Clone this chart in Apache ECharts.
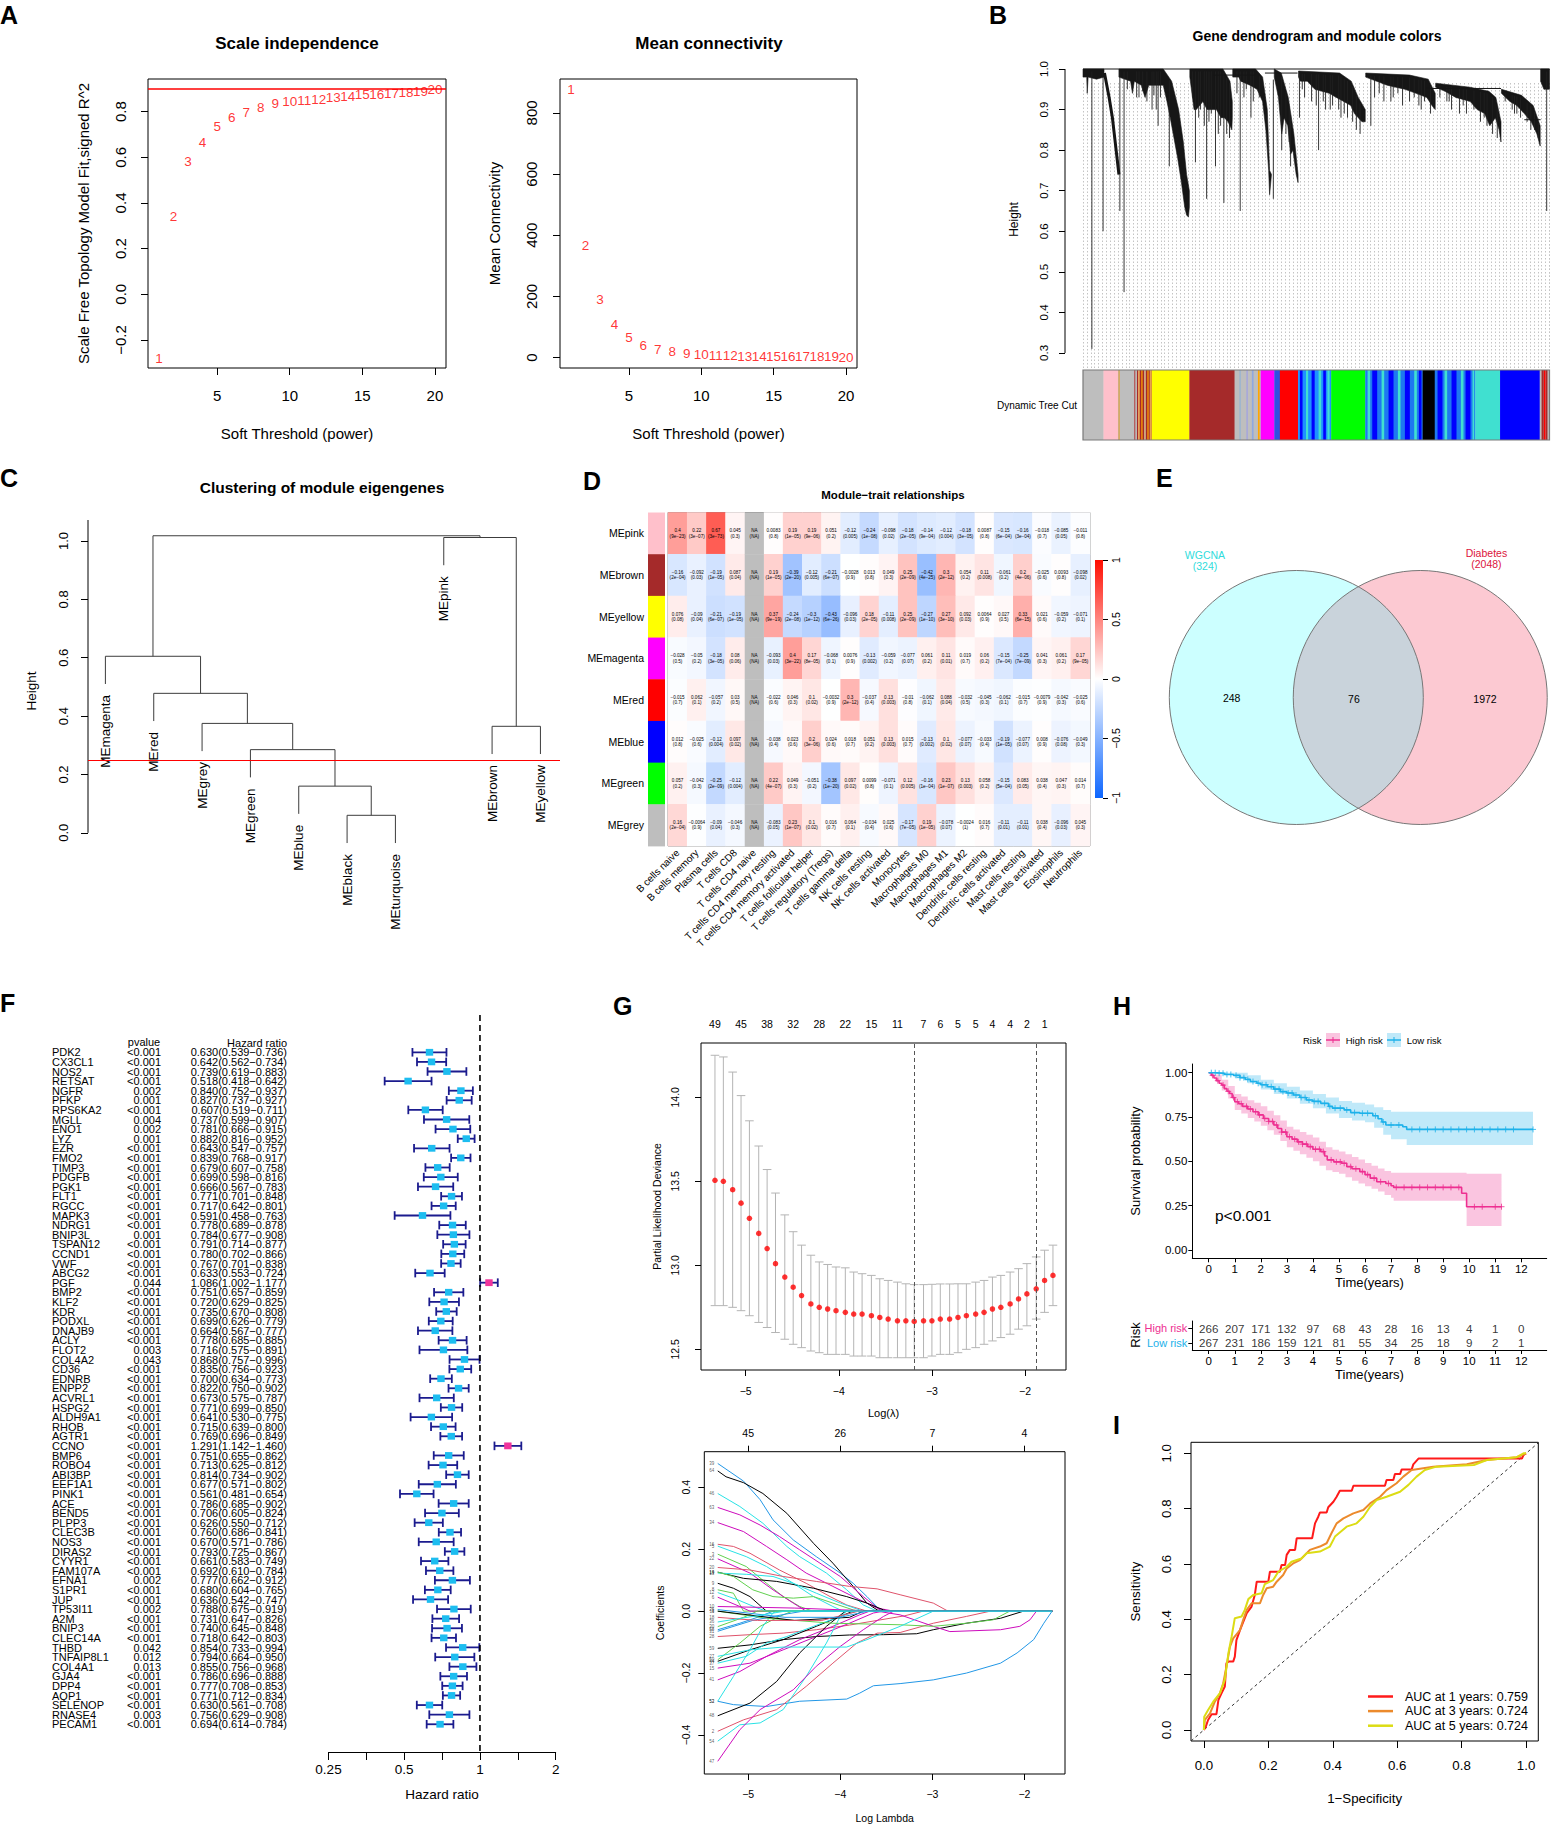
<!DOCTYPE html>
<html lang="en">
<head>
<meta charset="utf-8"/>
<title>WGCNA modules and prognostic signature</title>
<style>
  html, body { margin: 0; padding: 0; background: #fff; }
  #fig { width: 1556px; height: 1828px; }
</style>
</head>
<body>
<div id="fig"></div>
<script src="https://cdn.jsdelivr.net/npm/echarts@6.0.0/dist/echarts.min.js"></script>
<script>
// ---------------- A: soft threshold ----------------
const powers = [1, 2, 3, 4, 5, 6, 7, 8, 9, 10, 11, 12, 13, 14, 15, 16, 17, 18, 19, 20];
const scaleFitR2 = [-0.28, 0.34, 0.58, 0.665, 0.735, 0.775, 0.797, 0.82, 0.834, 0.844,
    0.848, 0.854, 0.863, 0.866, 0.873, 0.876, 0.88, 0.886, 0.89, 0.895];
const meanConnectivity = [876, 366, 189, 107, 65, 41, 27, 20, 14, 10, 8, 6, 5, 4, 3, 3, 2, 2, 2, 1];
const r2Cutoff = 0.9;

// ---------------- B: gene dendrogram (leaf order position 0..1, height) ----------------
const treeClusters = [
    {top: [[0, 1], [0.045, 1]], bottom: [[0, .98], [.008, .98], [.009, .94], [.011, .98], [.029, .975], [.045, .98]]},
    {top: [[.077, 1], [.172, 1], [.190, .97], [.205, .90], [.215, .82], [.222, .74], [.228, .70]],
        bottom: [[.077, .98], [.102, .97], [.106, .94], [.110, .97], [.125, .96], [.133, .93], [.141, .96], [.172, .96],
            [.180, .92], [.187, .88], [.195, .83], [.203, .78], [.211, .72], [.218, .66], [.222, .64], [.226, .635], [.228, .66]]},
    {top: [[.229, 1], [.30, 1], [.315, .97], [.320, .92]],
        bottom: [[.229, .98], [.238, .90], [.243, .90], [.257, .92], [.266, .90], [.280, .90], [.286, .90], [.296, .88],
            [.303, .88], [.311, .87], [.319, .85], [.320, .88]]},
    {top: [[.321, 1], [.37, 1], [.385, .98], [.395, .90], [.40, .75]],
        bottom: [[.321, .98], [.334, .98], [.338, .97], [.358, .96], [.373, .95], [.385, .92], [.392, .85], [.398, .75], [.400, .69], [.404, .74]]},
    {top: [[.410, 1], [.425, .99], [.44, .93], [.452, .84], [.461, .74]],
        bottom: [[.410, .98], [.419, .93], [.426, .84], [.431, .88], [.439, .86], [.445, .79], [.450, .80], [.457, .74], [.461, .72]]},
    {top: [[.462, .995], [.55, .99], [.575, .97], [.59, .93], [.605, .90]],
        bottom: [[.462, .98], [.466, .97], [.481, .97], [.497, .95], [.528, .94], [.543, .93], [.559, .92], [.574, .91],
            [.582, .89], [.590, .88], [.598, .87], [.605, .87]]},
    {top: [[.606, .99], [.70, .985], [.74, .975], [.755, .94]],
        bottom: [[.606, .98], [.652, .96], [.690, .95], [.714, .94], [.737, .93], [.748, .91], [.755, .90]]},
    {top: [[.756, .965], [.83, .955], [.87, .945], [.885, .93], [.896, .87]],
        bottom: [[.756, .955], [.776, .945], [.799, .93], [.830, .92], [.845, .90], [.861, .89], [.872, .86], [.884, .88], [.892, .85], [.896, .82]]},
    {top: [[.897, .95], [.94, .935], [.965, .91], [.98, .86]],
        bottom: [[.897, .94], [.915, .92], [.930, .91], [.946, .89], [.961, .87], [.973, .84], [.980, .81]]},
    {top: [[.981, 1], [1, 1]], bottom: [[.981, .97], [.988, .95], [1, .95]]}
];
const treeSpikes = [[.019, .31], [.043, .60], [.079, .65], [.088, .45], [.161, .86], [.185, .76], [.241, .77], [.265, .68],
    [.284, .76], [.302, .67], [.337, .65], [.408, .68], [.426, .80], [.445, .76], [.464, .88], [.505, .80], [.617, .86],
    [.807, .89], [.994, .65], [.12, .93], [.148, .90], [.36, .88], [.53, .90], [.56, .89], [.66, .92], [.72, .91],
    [.78, .92], [.86, .88], [.93, .89], [.96, .85],
    [.095, .95], [.115, .93], [.128, .945], [.137, .92], [.152, .935], [.157, .90], [.166, .93],
    [.235, .93], [.248, .88], [.252, .90], [.26, .86], [.27, .87], [.275, .89], [.29, .84], [.295, .86], [.308, .84], [.314, .83],
    [.33, .94], [.345, .93], [.35, .95], [.365, .92], [.378, .93], [.435, .84], [.442, .82],
    [.47, .95], [.475, .93], [.49, .92], [.50, .91], [.515, .92], [.52, .90], [.535, .91], [.548, .90], [.553, .88], [.567, .88],
    [.578, .87], [.586, .85], [.594, .84],
    [.625, .93], [.635, .94], [.645, .92], [.665, .93], [.675, .94], [.685, .91], [.70, .92], [.71, .93], [.725, .90], [.732, .92], [.745, .89],
    [.765, .93], [.785, .92], [.79, .90], [.815, .91], [.822, .89], [.838, .90], [.852, .87], [.866, .86], [.878, .84], [.888, .83],
    [.905, .92], [.92, .90], [.925, .89], [.938, .88], [.952, .87], [.968, .85], [.976, .83]];
const treeSweeps = [[[.046, .99], [.056, .93], [.063, .88], [.071, .80], [.077, .74]]];
const treeLinks = [[[0, 1], [1, 1]], [[.28, .985], [.37, .985]], [[.39, .99], [.46, .99]], [[.737, .952], [.896, .952]], [[.946, .875], [.981, .875]]];
const moduleBar = [[0, .044, '#bebebe'], [.044, .075, '#ffc0cb'], [.075, .110, '#bebebe'], [.110, .147, '#a52a2a'],
    [.147, .228, '#ffff00'], [.228, .325, '#a52a2a'], [.325, .381, '#bebebe'], [.381, .410, '#ff00ff'],
    [.410, .422, '#3050e0'], [.422, .461, '#ff0000'], [.461, .532, '#1e90ff'], [.532, .605, '#00ff00'],
    [.605, .728, '#1e78f0'], [.728, .754, '#000000'], [.754, .841, '#1e78f0'], [.841, .894, '#40e0d0'],
    [.894, .979, '#0000ff'], [.979, 1, '#bebebe']];
const moduleStripes = [[.076, .078, '#e0a040'], [.112, .115, '#bebebe'], [.118, .121, '#e8a860'], [.125, .127, '#ffa500'],
    [.131, .134, '#d2b48c'], [.138, .140, '#ffa500'], [.143, .146, '#e8a050'],
    [.335, .338, '#9fb6cd'], [.350, .353, '#a9a9d9'], [.362, .365, '#8fa8e0'], [.375, .378, '#ffa500'],
    [.465, .470, '#0000ff'], [.478, .482, '#40e0d0'], [.490, .496, '#0000ff'], [.505, .510, '#40e0d0'], [.515, .520, '#0000ff'], [.524, .528, '#40e0d0'],
    [.610, .615, '#40e0d0'], [.620, .630, '#0000ff'], [.640, .645, '#40e0d0'], [.655, .665, '#0000ff'], [.675, .680, '#40e0d0'],
    [.690, .700, '#0000ff'], [.710, .715, '#40e0d0'], [.720, .725, '#0000ff'],
    [.760, .770, '#0000ff'], [.775, .780, '#40e0d0'], [.790, .800, '#0000ff'], [.810, .815, '#40e0d0'], [.820, .830, '#0000ff'], [.835, .838, '#40e0d0'],
    [.983, .987, '#a52a2a'], [.988, .991, '#ff0000'], [.992, .995, '#a52a2a']];

// ---------------- C: module eigengene clustering ----------------
const eigenLeaves = ['MEmagenta', 'MEred', 'MEgrey', 'MEgreen', 'MEblue', 'MEblack', 'MEturquoise', 'MEpink', 'MEbrown', 'MEyellow'];
const eigenMerges = [['MEblack', 'MEturquoise', 0.06], ['MEblue', 'm0', 0.16], ['MEgreen', 'm1', 0.285], ['MEgrey', 'm2', 0.375],
    ['MEred', 'm3', 0.478], ['MEmagenta', 'm4', 0.605], ['MEbrown', 'MEyellow', 0.365], ['MEpink', 'm6', 1.012], ['m5', 'm7', 1.018]];
const eigenHang = 0.095;
const eigenCut = 0.25;

// ---------------- D: module-trait relationships ----------------
const traits = ['B cells naive', 'B cells memory', 'Plasma cells', 'T cells CD8', 'T cells CD4 naive', 'T cells CD4 memory resting',
    'T cells CD4 memory activated', 'T cells follicular helper', 'T cells regulatory (Tregs)', 'T cells gamma delta',
    'NK cells resting', 'NK cells activated', 'Monocytes', 'Macrophages M0', 'Macrophages M1', 'Macrophages M2',
    'Dendritic cells resting', 'Dendritic cells activated', 'Mast cells resting', 'Mast cells activated', 'Eosinophils', 'Neutrophils'];
const modules = ['MEpink', 'MEbrown', 'MEyellow', 'MEmagenta', 'MEred', 'MEblue', 'MEgreen', 'MEgrey'];
const moduleColors = ['#ffc0cb', '#a52a2a', '#ffff00', '#ff00ff', '#ff0000', '#0000ff', '#00ff00', '#bebebe'];
const corPink = [0.4, 0.22, 0.67, 0.045, null, 0.0083, 0.19, 0.19, 0.051, -0.12, -0.24, -0.098, -0.18, -0.14, -0.12, -0.18, 0.0087, -0.15, -0.16, -0.018, -0.085, -0.011];
const pPink = ['9e-23', '3e-07', '3e-73', '0.3', 'NA', '0.8', '1e-05', '9e-06', '0.2', '0.005', '1e-08', '0.02', '2e-05', '9e-04', '0.004', '3e-05', '0.8', '6e-04', '3e-04', '0.7', '0.05', '0.8'];
const corBrown = [-0.16, -0.092, -0.19, 0.087, null, 0.19, -0.39, -0.12, -0.21, -0.0028, 0.013, 0.049, 0.25, -0.42, 0.3, 0.054, 0.11, -0.061, 0.2, -0.025, 0.0093, -0.098];
const pBrown = ['2e-04', '0.03', '1e-05', '0.04', 'NA', '1e-05', '2e-20', '0.005', '6e-07', '0.9', '0.8', '0.3', '2e-09', '4e-25', '2e-12', '0.2', '0.008', '0.2', '4e-06', '0.6', '0.8', '0.02'];
const corYellow = [0.076, -0.09, -0.21, -0.19, null, 0.37, -0.24, -0.3, -0.43, -0.096, 0.18, -0.11, 0.25, -0.27, 0.27, 0.092, 0.0064, 0.027, 0.33, 0.021, -0.059, -0.071];
const pYellow = ['0.08', '0.04', '6e-07', '1e-05', 'NA', '9e-19', '2e-08', '1e-12', '6e-26', '0.03', '2e-05', '0.008', '2e-09', '1e-10', '3e-10', '0.03', '0.9', '0.5', '6e-15', '0.6', '0.2', '0.1'];
const corMagenta = [-0.028, -0.05, -0.18, 0.08, null, -0.093, 0.4, 0.17, -0.068, 0.0076, -0.13, -0.059, -0.077, 0.061, 0.11, 0.019, 0.06, -0.15, -0.25, 0.041, 0.061, 0.17];
const pMagenta = ['0.5', '0.2', '3e-05', '0.06', 'NA', '0.03', '3e-22', '8e-05', '0.1', '0.9', '0.002', '0.2', '0.07', '0.2', '0.01', '0.7', '0.2', '7e-04', '7e-09', '0.3', '0.2', '9e-05'];
const corRed = [-0.015, 0.062, -0.057, 0.03, null, -0.022, 0.046, 0.1, -0.0032, 0.3, -0.037, 0.13, -0.01, -0.062, 0.088, -0.032, -0.045, -0.062, -0.015, -0.0079, -0.042, -0.025];
const pRed = ['0.7', '0.1', '0.2', '0.5', 'NA', '0.6', '0.3', '0.02', '0.9', '2e-12', '0.4', '0.003', '0.8', '0.1', '0.04', '0.5', '0.3', '0.1', '0.7', '0.9', '0.3', '0.6'];
const corBlue = [0.012, -0.025, -0.12, 0.097, null, -0.038, 0.023, 0.2, 0.024, 0.018, 0.051, 0.13, 0.015, -0.13, 0.1, -0.077, -0.033, -0.19, -0.077, 0.008, -0.076, -0.049];
const pBlue = ['0.8', '0.6', '0.004', '0.02', 'NA', '0.4', '0.6', '3e-06', '0.6', '0.7', '0.2', '0.003', '0.7', '0.002', '0.02', '0.07', '0.4', '1e-05', '0.07', '0.9', '0.08', '0.3'];
const corGreen = [0.057, -0.042, -0.25, -0.12, null, 0.22, 0.049, -0.051, -0.38, 0.097, 0.0099, -0.071, 0.12, -0.16, 0.23, 0.13, 0.058, -0.15, 0.083, 0.038, 0.047, 0.014];
const pGreen = ['0.2', '0.3', '2e-09', '0.004', 'NA', '4e-07', '0.3', '0.2', '1e-20', '0.02', '0.8', '0.1', '0.005', '1e-04', '1e-07', '0.003', '0.2', '5e-04', '0.05', '0.4', '0.3', '0.7'];
const corGrey = [0.16, -0.0064, -0.09, -0.046, null, -0.083, 0.23, 0.1, 0.016, 0.064, -0.034, 0.025, -0.17, 0.19, -0.078, -0.0024, 0.016, -0.11, -0.11, 0.038, -0.096, 0.045];
const pGrey = ['2e-04', '0.9', '0.04', '0.3', 'NA', '0.05', '1e-07', '0.02', '0.7', '0.1', '0.4', '0.6', '7e-05', '1e-05', '0.07', '1', '0.7', '0.01', '0.01', '0.4', '0.03', '0.3'];

// ---------------- E: Venn ----------------
const vennSets = ['WGCNA', 'Diabetes'];
const vennTotals = [324, 2048];
const vennOnly = [248, 1972];
const vennShared = 76;

// ---------------- F: univariate Cox ----------------
const genes = ['PDK2', 'CX3CL1', 'NOS2', 'RETSAT', 'NGFR', 'PFKP', 'RPS6KA2', 'MGLL', 'ENO1', 'LYZ', 'EZR', 'FMO2', 'TIMP3', 'PDGFB',
    'PGK1', 'FLT1', 'RGCC', 'MAPK3', 'NDRG1', 'BNIP3L', 'TSPAN12', 'CCND1', 'VWF', 'ABCG2', 'PGF', 'BMP2', 'KLF2', 'KDR', 'PODXL',
    'DNAJB9', 'ACLY', 'FLOT2', 'COL4A2', 'CD36', 'EDNRB', 'ENPP2', 'ACVRL1', 'HSPG2', 'ALDH9A1', 'RHOB', 'AGTR1', 'CCNO', 'BMP6',
    'ROBO4', 'ABI3BP', 'EEF1A1', 'PINK1', 'ACE', 'BEND5', 'PLPP3', 'CLEC3B', 'NOS3', 'DIRAS2', 'CYYR1', 'FAM107A', 'EFNA1', 'S1PR1',
    'JUP', 'TP53I11', 'A2M', 'BNIP3', 'CLEC14A', 'THBD', 'TNFAIP8L1', 'COL4A1', 'GJA4', 'DPP4', 'AQP1', 'SELENOP', 'RNASE4', 'PECAM1'];
const pvals = ['<0.001', '<0.001', '<0.001', '<0.001', '0.002', '0.001', '<0.001', '0.004', '0.002', '0.001', '<0.001', '<0.001',
    '<0.001', '<0.001', '<0.001', '<0.001', '<0.001', '<0.001', '<0.001', '0.001', '<0.001', '<0.001', '<0.001', '<0.001', '0.044',
    '<0.001', '<0.001', '<0.001', '<0.001', '<0.001', '<0.001', '0.003', '0.043', '<0.001', '<0.001', '<0.001', '<0.001', '<0.001',
    '<0.001', '<0.001', '<0.001', '<0.001', '<0.001', '<0.001', '<0.001', '<0.001', '<0.001', '<0.001', '<0.001', '<0.001', '<0.001',
    '<0.001', '<0.001', '<0.001', '<0.001', '0.002', '<0.001', '<0.001', '0.002', '<0.001', '<0.001', '<0.001', '0.042', '0.012',
    '0.013', '<0.001', '<0.001', '<0.001', '<0.001', '0.003', '<0.001'];
const hr = [0.630, 0.642, 0.739, 0.518, 0.840, 0.827, 0.607, 0.737, 0.781, 0.882, 0.643, 0.839, 0.679, 0.699, 0.666, 0.771, 0.717,
    0.591, 0.778, 0.784, 0.791, 0.780, 0.767, 0.633, 1.086, 0.751, 0.720, 0.735, 0.699, 0.664, 0.778, 0.716, 0.868, 0.835, 0.700,
    0.822, 0.673, 0.771, 0.641, 0.715, 0.769, 1.291, 0.751, 0.713, 0.814, 0.677, 0.561, 0.786, 0.706, 0.626, 0.760, 0.670, 0.793,
    0.661, 0.692, 0.777, 0.680, 0.636, 0.788, 0.731, 0.740, 0.718, 0.854, 0.794, 0.855, 0.786, 0.777, 0.771, 0.630, 0.756, 0.694];
const hrLow = [0.539, 0.562, 0.619, 0.418, 0.752, 0.737, 0.519, 0.599, 0.666, 0.816, 0.547, 0.768, 0.607, 0.598, 0.567, 0.701, 0.642,
    0.458, 0.689, 0.677, 0.714, 0.702, 0.701, 0.553, 1.002, 0.657, 0.629, 0.670, 0.626, 0.567, 0.685, 0.575, 0.757, 0.756, 0.634,
    0.750, 0.575, 0.699, 0.530, 0.639, 0.696, 1.142, 0.655, 0.625, 0.734, 0.571, 0.481, 0.685, 0.605, 0.550, 0.686, 0.571, 0.725,
    0.583, 0.610, 0.662, 0.604, 0.542, 0.675, 0.647, 0.645, 0.642, 0.733, 0.664, 0.756, 0.696, 0.708, 0.712, 0.561, 0.629, 0.614];
const hrHigh = [0.736, 0.734, 0.883, 0.642, 0.937, 0.927, 0.711, 0.907, 0.915, 0.952, 0.757, 0.917, 0.758, 0.816, 0.783, 0.848, 0.801,
    0.763, 0.878, 0.908, 0.877, 0.866, 0.838, 0.724, 1.177, 0.859, 0.825, 0.808, 0.779, 0.777, 0.885, 0.891, 0.996, 0.923, 0.773,
    0.902, 0.787, 0.850, 0.775, 0.800, 0.849, 1.460, 0.862, 0.812, 0.902, 0.802, 0.654, 0.902, 0.824, 0.712, 0.841, 0.786, 0.867,
    0.749, 0.784, 0.912, 0.765, 0.747, 0.919, 0.826, 0.848, 0.803, 0.994, 0.950, 0.968, 0.888, 0.853, 0.834, 0.708, 0.908, 0.784];

// ---------------- G: LASSO ----------------
const cvLogLambda = [-5.33, -5.24, -5.14, -5.05, -4.96, -4.86, -4.77, -4.68, -4.58, -4.49, -4.40, -4.30, -4.21, -4.12, -4.03, -3.93,
    -3.84, -3.75, -3.65, -3.56, -3.47, -3.37, -3.28, -3.19, -3.09, -3.00, -2.91, -2.81, -2.72, -2.63, -2.53, -2.44, -2.35, -2.26,
    -2.16, -2.07, -1.98, -1.88, -1.79, -1.70];
const cvMean = [13.506, 13.50, 13.45, 13.37, 13.28, 13.19, 13.10, 13.01, 12.93, 12.87, 12.82, 12.77, 12.75, 12.74, 12.73, 12.72,
    12.71, 12.71, 12.70, 12.69, 12.68, 12.67, 12.67, 12.666, 12.67, 12.67, 12.68, 12.68, 12.69, 12.70, 12.71, 12.72, 12.74, 12.75,
    12.77, 12.80, 12.83, 12.86, 12.91, 12.94];
const cvUpper = [14.25, 14.24, 14.15, 14.01, 13.86, 13.71, 13.57, 13.43, 13.30, 13.20, 13.12, 13.06, 13.02, 13.005, 12.99, 12.985,
    12.96, 12.95, 12.94, 12.92, 12.91, 12.90, 12.89, 12.885, 12.885, 12.887, 12.889, 12.889, 12.89, 12.89, 12.90, 12.91, 12.93,
    12.94, 12.96, 12.98, 13.01, 13.05, 13.09, 13.12];
const cvLower = [12.76, 12.76, 12.75, 12.73, 12.70, 12.66, 12.63, 12.60, 12.56, 12.53, 12.51, 12.49, 12.48, 12.47, 12.47, 12.47,
    12.46, 12.46, 12.46, 12.45, 12.45, 12.45, 12.45, 12.45, 12.45, 12.46, 12.47, 12.47, 12.48, 12.50, 12.51, 12.53, 12.55, 12.57,
    12.59, 12.62, 12.64, 12.68, 12.72, 12.76];
const cvTopIndex = [0, 3, 6, 9, 12, 15, 18, 21, 24, 26, 28, 30, 32, 34, 36, 38];
const cvTopCount = [49, 45, 38, 32, 28, 22, 15, 11, 7, 6, 5, 5, 4, 4, 2, 1];
const lambdaMinLog = -3.19;
const lambda1seLog = -1.88;
const coefTopAt = [-5, -4, -3, -2];
const coefTopCount = [45, 26, 7, 4];
const coefIds = [39, 64, 46, 63, 34, 16, 5, 3, 22, 20, 19, 13, 14, 9, 8, 6, 12, 58, 28, 59, 60, 44, 37, 15, 41, 52, 53, 48, 2, 54,
    47, 10, 11, 27, 30, 31, 4, 18, 26, 36];
const coefColorKey = ['B', 'K', 'C', 'M', 'M', 'R', 'C', 'G', 'M', 'R', 'K', 'C', 'G', 'K', 'G', 'M', 'C', 'B', 'R', 'K', 'G', 'K', 'C',
    'M', 'M', 'C', 'B', 'K', 'R', 'C', 'M', 'M', 'G', 'C', 'G', 'B', 'K', 'R', 'B', 'C'];
const coefPaths = [
    [[-5.33, 0.477], [-5.05, 0.42], [-4.87, 0.36], [-4.73, 0.295], [-4.51, 0.23], [-4.26, 0.176], [-4.0, 0.123], [-3.86, 0.09], [-3.71, 0.047], [-3.57, 0.004], [-3.5, 0]],
    [[-5.33, 0.453], [-5.24, 0.434], [-5.05, 0.415], [-4.84, 0.38], [-4.58, 0.316], [-4.29, 0.219], [-4.08, 0.155], [-3.86, 0.08], [-3.71, 0.026], [-3.6, 0.004], [-3.55, 0]],
    [[-5.33, 0.38], [-5.09, 0.338], [-4.84, 0.284], [-4.58, 0.209], [-4.44, 0.176], [-4.15, 0.123], [-3.93, 0.069], [-3.75, 0.02], [-3.6, 0]],
    [[-5.33, 0.335], [-5.09, 0.311], [-4.87, 0.278], [-4.66, 0.241], [-4.44, 0.198], [-4.22, 0.155], [-4.0, 0.112], [-3.75, 0.047], [-3.57, 0.004], [-3.5, 0]],
    [[-5.33, 0.286], [-5.05, 0.257], [-4.8, 0.209], [-4.58, 0.166], [-4.37, 0.123], [-4.08, 0.08], [-3.86, 0.047], [-3.6, 0.01], [-3.42, 0]],
    [[-5.33, 0.216], [-5.16, 0.209], [-4.98, 0.187], [-4.66, 0.133], [-4.37, 0.09], [-4.11, 0.047], [-3.93, 0.02], [-3.71, 0]],
    [[-5.33, 0.21], [-5.02, 0.176], [-4.8, 0.144], [-4.51, 0.09], [-4.29, 0.047], [-4.08, 0.015], [-3.97, 0]],
    [[-5.33, 0.184], [-5.02, 0.144], [-4.8, 0.09], [-4.62, 0.047], [-4.44, 0.015], [-4.3, 0]],
    [[-5.33, 0.169], [-4.98, 0.123], [-4.73, 0.069], [-4.51, 0.026], [-4.37, 0]],
    [[-5.33, 0.141], [-4.98, 0.133], [-4.62, 0.112], [-4.26, 0.096], [-3.9, 0.08], [-3.6, 0.072], [-3.35, 0.053], [-2.99, 0.026], [-2.83, 0]],
    [[-5.33, 0.126], [-5.05, 0.106], [-4.69, 0.096], [-4.29, 0.074], [-3.93, 0.047], [-3.71, 0.026], [-3.53, 0.004], [-3.48, 0]],
    [[-5.33, 0.123], [-5.02, 0.119], [-4.73, 0.112], [-4.51, 0.09], [-4.26, 0.058], [-4.0, 0.026], [-3.79, 0.004], [-3.75, 0]],
    [[-5.33, 0.126], [-5.16, 0.112], [-4.95, 0.069], [-4.73, 0.047], [-4.51, 0.042], [-4.29, 0.047], [-4.08, 0.026], [-3.86, 0.004], [-3.8, 0]],
    [[-5.33, 0.09], [-5.16, 0.074], [-4.98, 0.047], [-4.84, 0.01], [-4.8, 0]],
    [[-5.33, 0.069], [-5.16, 0.058], [-5.05, 0]],
    [[-5.33, 0.045], [-5.09, 0.015], [-4.98, 0]],
    [[-5.33, 0.06], [-5.1, 0.035], [-4.9, 0.01], [-4.8, 0]],
    [[-5.33, -0.06], [-5.09, -0.039], [-4.87, -0.017], [-4.73, 0]],
    [[-5.33, -0.082], [-4.98, -0.076], [-4.62, -0.071], [-4.26, -0.06], [-3.9, -0.045], [-3.6, -0.03], [-3.3, -0.015], [-3.1, 0]],
    [[-5.33, -0.12], [-4.98, -0.109], [-4.62, -0.092], [-4.26, -0.082], [-3.9, -0.077], [-3.53, -0.076], [-3.17, -0.073], [-2.99, -0.06], [-2.63, -0.039], [-2.26, -0.023], [-2.01, 0]],
    [[-5.33, -0.157], [-5.09, -0.103], [-4.87, -0.049], [-4.66, -0.017], [-4.52, 0]],
    [[-5.33, -0.162], [-4.98, -0.125], [-4.62, -0.092], [-4.26, -0.049], [-4.0, -0.017], [-3.86, 0]],
    [[-5.33, -0.168], [-5.02, -0.146], [-4.8, -0.103], [-4.58, -0.082], [-4.29, -0.049], [-4.0, -0.017], [-3.82, 0]],
    [[-5.33, -0.184], [-4.98, -0.168], [-4.62, -0.125], [-4.26, -0.082], [-3.9, -0.039], [-3.64, -0.006], [-3.53, 0]],
    [[-5.33, -0.222], [-5.09, -0.195], [-4.8, -0.146], [-4.44, -0.092], [-4.08, -0.049], [-3.79, -0.012], [-3.68, 0]],
    [[-5.33, -0.291], [-5.16, -0.211], [-4.98, -0.125], [-4.84, -0.049], [-4.73, -0.006], [-4.69, 0]],
    [[-5.33, -0.291], [-5.16, -0.302], [-4.8, -0.308], [-4.44, -0.291], [-3.93, -0.284], [-3.79, -0.265], [-3.64, -0.241], [-3.35, -0.234], [-2.99, -0.222], [-2.63, -0.2], [-2.26, -0.168], [-2.08, -0.135], [-1.9, -0.092], [-1.79, -0.039], [-1.70, 0]],
    [[-5.33, -0.338], [-4.98, -0.297], [-4.69, -0.227], [-4.44, -0.135], [-4.15, -0.049], [-3.97, -0.006], [-3.93, 0]],
    [[-5.33, -0.388], [-5.05, -0.351], [-4.69, -0.318], [-4.37, -0.243], [-4.08, -0.168], [-3.82, -0.103], [-3.6, -0.071], [-3.35, -0.069], [-2.99, -0.039], [-2.63, -0.017], [-2.37, 0]],
    [[-5.33, -0.42], [-5.09, -0.367], [-4.87, -0.361], [-4.62, -0.318], [-4.37, -0.211], [-4.15, -0.103], [-4.0, -0.017], [-3.93, 0]],
    [[-5.33, -0.485], [-5.09, -0.383], [-4.87, -0.318], [-4.51, -0.254], [-4.26, -0.178], [-4.0, -0.114], [-3.75, -0.06], [-3.53, -0.017], [-3.42, 0]],
    [[-5.33, 0.015], [-4.5, 0.01], [-3.6, 0], [-3.35, -0.012], [-2.99, -0.049], [-2.81, -0.066], [-2.26, -0.06], [-2.05, -0.049], [-1.94, -0.028], [-1.87, 0]],
    [[-5.33, 0], [-4.8, -0.023], [-4.08, -0.039], [-3.35, -0.044], [-2.99, -0.049], [-2.63, -0.039], [-2.34, -0.028], [-2.16, 0]],
    [[-5.33, -0.146], [-4.98, -0.125], [-4.62, -0.116], [-3.93, -0.116], [-3.71, -0.092], [-3.35, -0.049], [-2.99, 0]],
    [[-5.33, -0.05], [-5.05, -0.02], [-4.9, 0]],
    [[-5.33, -0.065], [-4.95, -0.03], [-4.6, -0.01], [-4.4, 0]],
    [[-5.33, 0.0], [-4.5, -0.03], [-3.9, -0.02], [-3.75, 0]],
    [[-5.33, -0.02], [-4.9, -0.03], [-4.2, -0.03], [-3.8, 0]],
    [[-5.33, 0.005], [-4.6, -0.02], [-4.0, -0.02], [-3.7, 0]],
    [[-5.33, -0.035], [-4.8, -0.01], [-4.6, 0]]
];
const glmnetPalette = {K: '#000000', R: '#DF536B', G: '#61D04F', B: '#2297E6', C: '#28E2E5', M: '#CD0BBC'};

// ---------------- H: Kaplan-Meier ----------------
const kmGroups = ['High risk', 'Low risk'];
const kmColors = ['#ee2f91', '#1cb1ea'];
const kmBandColors = ['rgba(238,47,145,0.28)', 'rgba(28,177,234,0.28)'];
const highT = [0, 0.1, 0.2, 0.3, 0.4, 0.5, 0.6, 0.7, 0.8, 0.9, 1.0, 1.15, 1.3, 1.5, 1.7, 1.9, 2.1, 2.3, 2.5, 2.65, 2.8, 3.0,
    3.2, 3.4, 3.6, 3.8, 4.0, 4.3, 4.45, 4.55, 4.8, 5.1, 5.3, 5.5, 5.8, 6.0, 6.2, 6.45, 6.8, 7.0, 7.1, 9.71, 9.9, 11.24];
const highS = [1, 0.985, 0.97, 0.955, 0.94, 0.93, 0.91, 0.895, 0.883, 0.86, 0.836, 0.825, 0.81, 0.795, 0.78, 0.762, 0.742, 0.725,
    0.705, 0.685, 0.665, 0.639, 0.625, 0.61, 0.597, 0.583, 0.568, 0.555, 0.53, 0.508, 0.497, 0.489, 0.47, 0.458, 0.442, 0.425,
    0.405, 0.385, 0.375, 0.362, 0.353, 0.32, 0.244, 0.244];
const lowT = [0, 0.3, 0.6, 0.95, 1.2, 1.4, 1.6, 1.85, 2.0, 2.25, 2.5, 2.75, 3.0, 3.25, 3.5, 3.75, 4.0, 4.3, 4.6, 4.75, 5.2, 5.45,
    5.8, 6.3, 6.5, 6.65, 6.8, 7.45, 7.6, 12.45];
const lowS = [1, 0.997, 0.99, 0.985, 0.972, 0.962, 0.95, 0.94, 0.932, 0.921, 0.907, 0.893, 0.885, 0.874, 0.86, 0.846, 0.838, 0.827,
    0.81, 0.8, 0.79, 0.775, 0.771, 0.757, 0.74, 0.722, 0.705, 0.695, 0.68, 0.68];
const highBand = [[0, 1, 1], [0.25, 0.95, 0.99], [0.5, 0.90, 0.96], [0.75, 0.855, 0.925], [1.0, 0.79, 0.88], [1.25, 0.77, 0.865],
    [1.5, 0.745, 0.845], [1.75, 0.725, 0.83], [2.0, 0.70, 0.81], [2.25, 0.675, 0.785], [2.5, 0.65, 0.76], [2.75, 0.615, 0.73],
    [3.0, 0.58, 0.695], [3.25, 0.56, 0.68], [3.5, 0.54, 0.665], [3.75, 0.52, 0.65], [4.0, 0.50, 0.635], [4.25, 0.475, 0.61],
    [4.5, 0.45, 0.58], [4.75, 0.44, 0.565], [5.0, 0.43, 0.555], [5.25, 0.41, 0.54], [5.5, 0.39, 0.525], [5.75, 0.375, 0.51],
    [6.0, 0.36, 0.49], [6.25, 0.345, 0.475], [6.5, 0.33, 0.46], [6.75, 0.31, 0.445], [7.0, 0.295, 0.436], [7.1, 0.278, 0.436],
    [9.9, 0.135, 0.43]];
const lowBand = [[0, 1, 1], [0.5, 0.99, 1.0], [1.0, 0.97, 1.0], [1.5, 0.94, 0.985], [2.0, 0.905, 0.96], [2.5, 0.88, 0.94],
    [3.0, 0.855, 0.92], [3.5, 0.825, 0.90], [4.0, 0.80, 0.88], [4.5, 0.77, 0.86], [5.0, 0.745, 0.84], [5.5, 0.73, 0.83],
    [6.0, 0.72, 0.82], [6.35, 0.69, 0.805], [6.7, 0.65, 0.79], [7.0, 0.625, 0.78], [7.6, 0.592, 0.78]];
const highEnd = 11.24, lowEnd = 12.45;
const highCensor = [0.15, 0.35, 0.55, 0.75, 0.95, 1.1, 1.25, 1.45, 1.6, 1.8, 1.95, 2.15, 2.3, 2.45, 2.6, 2.8, 2.95, 3.1, 3.3,
    3.45, 3.6, 3.75, 3.9, 4.1, 4.25, 4.4, 4.7, 4.9, 5.05, 5.2, 5.45, 5.65, 5.9, 6.1, 6.35, 6.6, 6.9, 7.2, 7.5, 7.8, 8.1, 8.4, 8.7,
    9.0, 9.3, 9.6, 10.2, 10.5, 11.0, 11.24];
const lowCensor = [0.1, 0.25, 0.4, 0.55, 0.7, 0.85, 1.05, 1.2, 1.35, 1.5, 1.7, 1.9, 2.05, 2.2, 2.4, 2.55, 2.7, 2.85, 3.05, 3.2,
    3.35, 3.55, 3.7, 3.85, 4.05, 4.2, 4.45, 4.65, 4.85, 5.05, 5.3, 5.6, 5.9, 6.1, 6.4, 6.7, 7.0, 7.3, 7.8, 8.1, 8.4, 8.7, 9.0, 9.3,
    9.6, 9.9, 10.2, 10.5, 10.8, 11.1, 11.4, 11.7, 12.45];
const years = [0, 1, 2, 3, 4, 5, 6, 7, 8, 9, 10, 11, 12];
const riskHigh = [266, 207, 171, 132, 97, 68, 43, 28, 16, 13, 4, 1, 0];
const riskLow = [267, 231, 186, 159, 121, 81, 55, 34, 25, 18, 9, 2, 1];
const kmPvalue = 'p<0.001';

// ---------------- I: time-dependent ROC ----------------
const rocNames = ['AUC at 1 years: 0.759', 'AUC at 3 years: 0.724', 'AUC at 5 years: 0.724'];
const rocColors = ['#ff1a1a', '#ec8a2c', '#dcdc14'];
const roc1 = [[0, 0], [0.006, 0.012], [0.013, 0.036], [0.024, 0.057], [0.039, 0.057], [0.045, 0.108], [0.055, 0.133], [0.065, 0.157],
    [0.07, 0.241], [0.076, 0.247], [0.091, 0.247], [0.096, 0.265], [0.101, 0.325], [0.112, 0.361], [0.133, 0.422], [0.148, 0.446],
    [0.158, 0.488], [0.164, 0.536], [0.2, 0.536], [0.205, 0.572], [0.236, 0.572], [0.241, 0.596], [0.252, 0.596], [0.257, 0.633],
    [0.267, 0.651], [0.283, 0.651], [0.288, 0.693], [0.336, 0.693], [0.345, 0.747], [0.355, 0.771], [0.36, 0.786], [0.381, 0.786],
    [0.386, 0.805], [0.402, 0.825], [0.412, 0.843], [0.422, 0.865], [0.459, 0.865], [0.464, 0.883], [0.562, 0.883], [0.567, 0.904],
    [0.588, 0.904], [0.593, 0.925], [0.609, 0.925], [0.614, 0.942], [0.645, 0.942], [0.65, 0.96], [0.666, 0.981], [0.961, 0.981],
    [0.987, 0.981], [0.992, 0.994], [1, 1]];
const roc3 = [[0, 0], [0.003, 0.036], [0.019, 0.06], [0.034, 0.102], [0.05, 0.133], [0.06, 0.169], [0.07, 0.229], [0.081, 0.301],
    [0.091, 0.331], [0.112, 0.361], [0.122, 0.398], [0.133, 0.434], [0.148, 0.458], [0.174, 0.458], [0.184, 0.488], [0.195, 0.512],
    [0.215, 0.518], [0.226, 0.536], [0.246, 0.56], [0.257, 0.584], [0.277, 0.602], [0.298, 0.614], [0.314, 0.633], [0.329, 0.651],
    [0.36, 0.663], [0.381, 0.675], [0.396, 0.711], [0.412, 0.747], [0.433, 0.765], [0.464, 0.783], [0.495, 0.795], [0.516, 0.819],
    [0.547, 0.843], [0.567, 0.867], [0.598, 0.892], [0.619, 0.916], [0.645, 0.94], [0.712, 0.952], [0.816, 0.961], [0.878, 0.976],
    [0.971, 0.986], [1, 1]];
const roc5 = [[0, 0], [0.001, 0.048], [0.013, 0.072], [0.029, 0.102], [0.05, 0.133], [0.065, 0.181], [0.076, 0.277], [0.086, 0.337],
    [0.096, 0.404], [0.117, 0.41], [0.127, 0.434], [0.138, 0.473], [0.153, 0.488], [0.179, 0.494], [0.189, 0.527], [0.215, 0.542],
    [0.231, 0.572], [0.257, 0.59], [0.272, 0.608], [0.303, 0.62], [0.319, 0.639], [0.36, 0.645], [0.391, 0.663], [0.407, 0.699],
    [0.443, 0.735], [0.474, 0.747], [0.495, 0.771], [0.516, 0.807], [0.536, 0.831], [0.567, 0.843], [0.609, 0.861], [0.635, 0.886],
    [0.66, 0.916], [0.686, 0.94], [0.722, 0.952], [0.838, 0.958], [0.878, 0.976], [0.971, 0.986], [0.992, 1], [1, 1]];

// =====================================================================
const FONT = '"Liberation Sans", Arial, Helvetica, sans-serif';
const minus = s => String(s).replace(/-/g, '\u2212');
const fmt = d => v => (v < -1e-9 ? '\u2212' : '') + Math.abs(v).toFixed(d);

function grid(l, t, w, h, border) {
    return {left: l, top: t, width: w, height: h, show: !!border, borderColor: border || 'transparent',
        borderWidth: 1, backgroundColor: 'transparent', outerBoundsMode: 'none'};
}
function vAxis(gi, min, max, o) {
    o = o || {};
    return {
        type: 'value', gridIndex: gi, min: min, max: max, inverse: !!o.inverse, position: o.position,
        show: !o.hidden,
        axisLine: {show: !!o.line, onZero: false, lineStyle: {color: '#000', width: 1}},
        axisTick: {show: !!o.ticks, customValues: o.ticks, length: o.tickLen || 7, lineStyle: {color: '#000', width: 1}},
        axisLabel: {show: !!(o.ticks || o.labels), customValues: o.labels || o.ticks, formatter: o.fmt, rotate: o.rotate || 0,
            margin: o.margin || 8, color: '#000', fontSize: o.size || 12, fontFamily: FONT},
        splitLine: {show: false},
        name: o.name || '', nameLocation: 'middle', nameGap: o.gap || 20, nameRotate: o.nameRotate || 0,
        nameTextStyle: {color: '#000', fontSize: o.nameSize || 12, fontFamily: FONT}
    };
}
function cAxis(gi, data, o) {
    o = o || {};
    return {
        type: 'category', gridIndex: gi, data: data, inverse: !!o.inverse, show: !o.hidden,
        axisLine: {show: !!o.line, onZero: false, lineStyle: {color: '#000'}},
        axisTick: {show: !!o.tick, length: 4, alignWithLabel: true, lineStyle: {color: '#000'}},
        axisLabel: {show: !o.noLabel, interval: 0, inside: !!o.inside, rotate: o.rotate || 0, margin: o.margin || 0,
            fontSize: o.size || 11, fontFamily: FONT, color: o.color || '#000', formatter: o.fmt},
        splitLine: {show: false}
    };
}
function ln(a, b, stroke, w, dash) {
    return {type: 'line', shape: {x1: a[0], y1: a[1], x2: b[0], y2: b[1]},
        style: {stroke: stroke, lineWidth: w || 1, lineDash: dash || null}};
}
function txt(x, y, text, size, o) {
    o = o || {};
    return {type: 'text', x: x, y: y, rotation: o.rot || 0, silent: true, z: 100,
        style: {text: text, fill: o.color || '#000', fontSize: size, fontFamily: FONT, fontWeight: o.bold ? 'bold' : 'normal',
            align: o.align || 'center', verticalAlign: o.va || 'middle', lineHeight: o.lh}};
}
function once(gi, x, y, render, extra) {
    return Object.assign({type: 'custom', xAxisIndex: gi, yAxisIndex: gi, data: [[x, y]], silent: true,
        renderItem: function (params, api) { return {type: 'group', children: render(api)}; }}, extra || {});
}
function survAt(ts, ss, t) {
    let s = ss[0];
    for (let i = 0; i < ts.length; i++) { if (ts[i] <= t) s = ss[i]; }
    return s;
}
function stepBand(band, tEnd) {
    const up = [], lo = [];
    band.forEach((b, k) => {
        const tn = k + 1 < band.length ? band[k + 1][0] : tEnd;
        up.push([b[0], b[2]], [tn, b[2]]);
        lo.push([b[0], b[1]], [tn, b[1]]);
    });
    return up.concat(lo.reverse());
}
// height of the dendrogram mass top edge at leaf position f (for spike starts)
function treeTopAt(f) {
    for (const c of treeClusters) {
        const t = c.top;
        if (f >= t[0][0] - 1e-9 && f <= t[t.length - 1][0] + 1e-9) {
            for (let i = 1; i < t.length; i++) {
                if (f <= t[i][0]) {
                    const a = t[i - 1], b = t[i];
                    return a[1] + (b[1] - a[1]) * (f - a[0]) / ((b[0] - a[0]) || 1);
                }
            }
            return t[t.length - 1][1];
        }
    }
    return 0.98;
}

const grids = [
    grid(148, 79, 298, 289, '#000'),        // 0 A1
    grid(560, 79, 297, 289, '#000'),        // 1 A2
    grid(1065, 69, 484.5, 301),             // 2 B tree
    grid(1083, 83, 466.5, 287),             // 3 B guides
    grid(1083, 370, 466.5, 70),             // 4 B colours
    grid(88, 520, 472, 342),                // 5 C
    grid(648, 512.5, 17, 333.5),            // 6 D colour column
    grid(668, 512.5, 422, 333.5, '#8c8c8c'),// 7 D heatmap
    grid(1095, 560, 8, 238),                // 8 D legend
    grid(1100, 560, 456, 280),              // 9 E
    grid(52, 1047.5, 10, 681.6),            // 10 F genes
    grid(161, 1047.5, 10, 681.6),           // 11 F p
    grid(287, 1047.5, 10, 681.6),           // 12 F HR text
    grid(328.5, 1015, 227.2, 737),          // 13 F forest
    grid(701, 1043, 365, 327, '#000'),      // 14 G cv
    grid(704.3, 1451.7, 360.7, 322.3, '#000'), // 15 G paths
    grid(1192.3, 1064, 354.4, 194.3),       // 16 H km
    grid(1192.3, 1321, 354.4, 29),          // 17 H table
    grid(1191, 1442.3, 347.3, 298.7, '#000')// 18 I roc
];

const xAxes = [
    vAxis(0, 0.24, 20.76, {ticks: [5, 10, 15, 20], fmt: String, margin: 20, size: 15, name: 'Soft Threshold (power)', gap: 57.5, nameSize: 15}),
    vAxis(1, 0.24, 20.76, {ticks: [5, 10, 15, 20], fmt: String, margin: 20, size: 15, name: 'Soft Threshold (power)', gap: 57.5, nameSize: 15}),
    vAxis(2, -0.0386, 1, {hidden: true}),
    {type: 'value', gridIndex: 3, min: 0, max: 1, interval: 1 / 120, axisLine: {show: false}, axisTick: {show: false},
        axisLabel: {show: false}, splitLine: {show: true, lineStyle: {color: '#c4c4c4', width: 1, type: [1.5, 2]}}},
    vAxis(4, 0, 1, {hidden: true}),
    vAxis(5, 0.64, 10.405, {hidden: true}),
    cAxis(6, ['m'], {hidden: true}),
    cAxis(7, traits, {rotate: 45, margin: 5, size: 10}),
    vAxis(8, 0, 1, {hidden: true}),
    vAxis(9, -1.5457, 2.0449, {hidden: true}),
    vAxis(10, 0, 1, {hidden: true}),
    vAxis(11, 0, 1, {hidden: true}),
    vAxis(12, 0, 1, {hidden: true}),
    {type: 'value', gridIndex: 13, min: -2, max: 1, interval: 0.5,
        axisLine: {show: true, onZero: false, lineStyle: {color: '#000', width: 1}},
        axisTick: {show: true, length: 8, lineStyle: {color: '#000'}},
        axisLabel: {margin: 10, fontSize: 13.5, color: '#000', fontFamily: FONT,
            formatter: v => Math.abs(v - Math.round(v)) > 1e-6 ? '' : String(+Math.pow(2, v).toFixed(2))},
        splitLine: {show: false}, name: 'Hazard ratio', nameLocation: 'middle', nameGap: 35,
        nameTextStyle: {fontSize: 13.5, color: '#000', fontFamily: FONT}},
    vAxis(14, -5.48, -1.56, {ticks: [-5, -4, -3, -2], fmt: fmt(0), margin: 15, size: 10.5, tickLen: 6, name: 'Log(\u03bb)', gap: 37.5, nameSize: 11}),
    vAxis(15, -5.476, -1.56, {ticks: [-5, -4, -3, -2], fmt: fmt(0), margin: 14, size: 10.5, tickLen: 6, name: 'Log Lambda', gap: 38.7, nameSize: 10.5}),
    vAxis(16, -0.63, 12.975, {line: true, ticks: years, fmt: String, margin: 5, size: 11.5, tickLen: 4, name: 'Time(years)', gap: 17.5, nameSize: 13}),
    vAxis(17, -0.63, 12.975, {line: true, ticks: years, fmt: String, margin: 5, size: 11.5, tickLen: 4, name: 'Time(years)', gap: 16.8, nameSize: 13}),
    vAxis(18, -0.04, 1.038, {ticks: [0, 0.2, 0.4, 0.6, 0.8, 1], fmt: fmt(1), margin: 18, size: 13.3, tickLen: 7, name: '1\u2212Specificity', gap: 50.6, nameSize: 13.3}),
    // top axes of G
    vAxis(14, -5.48, -1.56, {position: 'top', labels: cvTopIndex.map(i => cvLogLambda[i]), margin: 14, size: 10.5,
        fmt: v => { const k = cvTopIndex.findIndex(i => Math.abs(cvLogLambda[i] - v) < 1e-6); return k < 0 ? '' : String(cvTopCount[k]); }}),
    vAxis(15, -5.476, -1.56, {position: 'top', ticks: coefTopAt, margin: 13.7, size: 10.5, tickLen: 6,
        fmt: v => { const k = coefTopAt.indexOf(Math.round(v)); return k < 0 ? '' : String(coefTopCount[k]); }})
];

const yAxes = [
    vAxis(0, -0.323, 0.943, {ticks: [-0.2, 0, 0.2, 0.4, 0.6, 0.8], fmt: fmt(1), rotate: 90, margin: 20, size: 15,
        name: 'Scale Free Topology Model Fit,signed R^2', gap: 57.5, nameSize: 15, nameRotate: 90}),
    vAxis(1, -34, 911, {ticks: [0, 200, 400, 600, 800], fmt: String, rotate: 90, margin: 21.5, size: 15,
        name: 'Mean Connectivity', gap: 58.5, nameSize: 15, nameRotate: 90}),
    vAxis(2, 0.258, 1.0, {ticks: [0.3, 0.4, 0.5, 0.6, 0.7, 0.8, 0.9, 1.0], fmt: fmt(1), rotate: 90, margin: 15, size: 11.5, tickLen: 6,
        name: 'Height', gap: 45.5, nameSize: 12, nameRotate: 90}),
    vAxis(3, 0, 1, {hidden: true}),
    vAxis(4, 0, 1, {hidden: true}),
    vAxis(5, -0.1, 1.072, {ticks: [0, 0.2, 0.4, 0.6, 0.8, 1.0], fmt: fmt(1), rotate: 90, margin: 18.5, size: 13,
        name: 'Height', gap: 50, nameSize: 13.5, nameRotate: 90}),
    cAxis(6, modules, {hidden: true, inverse: true}),
    cAxis(7, modules, {inverse: true, margin: 24, size: 10.5}),
    vAxis(8, -1, 1, {position: 'right', ticks: [-1, -0.5, 0, 0.5, 1], rotate: 90, margin: 7, size: 10.5, tickLen: 5,
        fmt: v => (v < 0 ? '\u2212' : '') + String(Math.abs(v))}),
    vAxis(9, -1.122, 1.0827, {hidden: true}),
    cAxis(10, genes, {inverse: true, inside: true, margin: 0, size: 11}),
    cAxis(11, genes, {inverse: true, margin: 0, size: 11, fmt: (v, i) => pvals[i]}),
    cAxis(12, genes, {inverse: true, margin: 0, size: 11,
        fmt: (v, i) => hr[i].toFixed(3) + '(' + hrLow[i].toFixed(3) + '\u2212' + hrHigh[i].toFixed(3) + ')'}),
    vAxis(13, -3.885, 72.89, {hidden: true, inverse: true}),
    vAxis(14, 12.377, 14.323, {ticks: [12.5, 13, 13.5, 14], fmt: fmt(1), rotate: 90, margin: 20.5, size: 10.5, tickLen: 6,
        name: 'Partial Likelihood Deviance', gap: 38.8, nameSize: 10.5, nameRotate: 90}),
    vAxis(15, -0.526, 0.515, {ticks: [-0.4, -0.2, 0, 0.2, 0.4], fmt: fmt(1), rotate: 90, margin: 13, size: 10.5, tickLen: 6,
        name: 'Coefficients', gap: 39, nameSize: 10.5, nameRotate: 90}),
    vAxis(16, -0.047, 1.049, {line: true, ticks: [0, 0.25, 0.5, 0.75, 1], fmt: v => v.toFixed(2), margin: 5, size: 11.5, tickLen: 4,
        name: 'Survival probability', gap: 50.8, nameSize: 13, nameRotate: 90}),
    cAxis(17, kmGroups, {inverse: true, line: true, tick: true, margin: 5, size: 11, color: (v, i) => kmColors[i]}),
    vAxis(18, -0.04, 1.04, {ticks: [0, 0.2, 0.4, 0.6, 0.8, 1], fmt: fmt(1), rotate: 90, margin: 17.7, size: 13.3, tickLen: 7,
        name: 'Sensitivity', gap: 49.4, nameSize: 13.3, nameRotate: 90})
];

const series = [];

// ---- A ----
[[scaleFitR2, 0], [meanConnectivity, 1]].forEach(([vals, gi]) => {
    const s = {type: 'scatter', xAxisIndex: gi, yAxisIndex: gi, symbolSize: 1, silent: true,
        itemStyle: {color: 'rgba(0,0,0,0)'},
        data: powers.map((p, i) => ({name: String(p), value: [p, vals[i]]})),
        label: {show: true, position: 'inside', formatter: '{b}', color: '#ff0000', fontSize: 13.5, fontFamily: FONT}};
    if (gi === 0) {
        s.markLine = {silent: true, symbol: 'none', label: {show: false},
            lineStyle: {color: '#ff0000', width: 1.6, type: 'solid'}, data: [{yAxis: r2Cutoff}]};
    }
    series.push(s);
});

// ---- B ----
series.push({type: 'line', xAxisIndex: 2, yAxisIndex: 2, data: [[-0.0386, 0.3], [-0.0386, 1.0]], symbol: 'none',
    clip: false, silent: true, lineStyle: {color: '#000', width: 1}});
series.push({type: 'scatter', xAxisIndex: 3, yAxisIndex: 3, data: [], silent: true});
series.push(once(2, 0.5, 0.6, api => {
    const ch = [];
    treeClusters.forEach(c => {
        const pts = c.top.concat(c.bottom.slice().reverse()).map(p => api.coord(p));
        ch.push({type: 'polygon', shape: {points: pts}, style: {fill: '#161616', stroke: '#161616', lineWidth: 0.6}});
    });
    treeSpikes.forEach(s => ch.push(ln(api.coord([s[0], treeTopAt(s[0]) - 0.006]), api.coord(s), '#202020', 0.9)));
    treeSweeps.forEach(sw => ch.push({type: 'polyline', shape: {points: sw.map(p => api.coord(p))},
        style: {stroke: '#161616', lineWidth: 3, fill: null}}));
    treeLinks.forEach(l => ch.push(ln(api.coord(l[0]), api.coord(l[1]), '#161616', 1)));
    return ch;
}, {z: 5}));
series.push(once(4, 0.5, 0.5, api => {
    const ch = [];
    moduleBar.concat(moduleStripes).forEach(s => {
        const a = api.coord([s[0], 1]), b = api.coord([s[1], 0]);
        ch.push({type: 'rect', shape: {x: a[0], y: a[1], width: b[0] - a[0] + 0.3, height: b[1] - a[1]}, style: {fill: s[2]}});
    });
    const a = api.coord([0, 1]), b = api.coord([1, 0]);
    ch.push({type: 'rect', shape: {x: a[0], y: a[1], width: b[0] - a[0], height: b[1] - a[1]},
        style: {fill: 'none', stroke: '#7a7a7a', lineWidth: 1.2}});
    return ch;
}));

// ---- C ----
const eigen = (function () {
    const pos = {}, hgt = {}, segs = [], leafEnd = {};
    eigenLeaves.forEach((n, i) => { pos[n] = i + 1; });
    eigenMerges.forEach((m, k) => {
        const a = m[0], b = m[1], h = m[2];
        [a, b].forEach(c => {
            let low;
            if (c in hgt) low = hgt[c]; else { low = h - eigenHang; leafEnd[c] = low; }
            segs.push([[pos[c], h], [pos[c], low]]);
        });
        segs.push([[pos[a], h], [pos[b], h]]);
        pos['m' + k] = (pos[a] + pos[b]) / 2;
        hgt['m' + k] = h;
    });
    return {pos: pos, segs: segs, leafEnd: leafEnd};
})();
series.push({type: 'line', xAxisIndex: 5, yAxisIndex: 5, data: [[0.64, 0], [0.64, 1.072]], symbol: 'none', clip: false,
    silent: true, lineStyle: {color: '#000', width: 1},
    markLine: {silent: true, symbol: 'none', label: {show: false}, lineStyle: {color: '#ff0000', width: 1, type: 'solid'},
        data: [{yAxis: eigenCut}]}});
series.push(once(5, 5, 0.5, api => {
    const ch = eigen.segs.map(s => ln(api.coord(s[0]), api.coord(s[1]), '#3c3c3c', 1));
    eigenLeaves.forEach(n => {
        const p = api.coord([eigen.pos[n], eigen.leafEnd[n]]);
        ch.push({type: 'text', x: p[0], y: p[1] + 11, rotation: Math.PI / 2,
            style: {text: n, align: 'right', verticalAlign: 'middle', fontSize: 13.5, fontFamily: FONT, fill: '#000'}});
    });
    return ch;
}));

// ---- D ----
series.push({type: 'custom', xAxisIndex: 6, yAxisIndex: 6, silent: true, data: modules.map((m, i) => [0, i]),
    renderItem: (params, api) => {
        const c = api.coord([0, api.value(1)]), s = api.size([1, 1]);
        return {type: 'rect', shape: {x: c[0] - s[0] / 2, y: c[1] - s[1] / 2, width: s[0], height: s[1] + 0.4},
            style: {fill: moduleColors[params.dataIndex]}};
    }});
const corRows = [corPink, corBrown, corYellow, corMagenta, corRed, corBlue, corGreen, corGrey];
const pRows = [pPink, pBrown, pYellow, pMagenta, pRed, pBlue, pGreen, pGrey];
const heatData = [], naCells = [];
corRows.forEach((row, r) => row.forEach((v, c) => {
    if (v === null) naCells.push([c, r]); else heatData.push({value: [c, r, v], p: pRows[r][c]});
}));
const heatIndex = series.length;
series.push({type: 'heatmap', xAxisIndex: 7, yAxisIndex: 7, data: heatData, silent: true,
    emphasis: {disabled: true}, itemStyle: {borderWidth: 0},
    label: {show: true, color: '#000', fontSize: 4.6, lineHeight: 5.4, fontFamily: FONT,
        formatter: p => minus(p.data.value[2]) + '\n(' + minus(p.data.p) + ')'}});
series.push({type: 'custom', xAxisIndex: 7, yAxisIndex: 7, silent: true, data: naCells,
    renderItem: (params, api) => {
        const c = api.coord([api.value(0), api.value(1)]), s = api.size([1, 1]);
        return {type: 'group', children: [
            {type: 'rect', shape: {x: c[0] - s[0] / 2, y: c[1] - s[1] / 2, width: s[0], height: s[1] + 0.4}, style: {fill: '#bebebe'}},
            {type: 'text', x: c[0], y: c[1], style: {text: 'NA\n(NA)', align: 'center', verticalAlign: 'middle',
                fontSize: 4.6, lineHeight: 5.4, fontFamily: FONT, fill: '#000'}}]};
    }});
series.push(once(8, 0.5, 0, api => {
    const a = api.coord([0, 1]), b = api.coord([1, -1]);
    return [{type: 'rect', shape: {x: a[0], y: a[1], width: b[0] - a[0], height: b[1] - a[1]},
        style: {fill: {type: 'linear', x: 0, y: 1, x2: 0, y2: 0, colorStops: [
            {offset: 0, color: '#0d66ff'}, {offset: 0.5, color: '#ffffff'}, {offset: 1, color: '#ff0d00'}]}}}];
}));

// ---- E ----
const vennGap = 0.976;
series.push(once(9, 0.5, 0, api => {
    const cl = api.coord([0, 0]), cr = api.coord([vennGap, 0]), r = api.size([1, 0])[0];
    const circ = (c, style) => ({type: 'circle', shape: {cx: c[0], cy: c[1], r: r}, style: style});
    const t = (p, text, color) => {
        const q = api.coord(p);
        return {type: 'text', x: q[0], y: q[1], style: {text: text, align: 'center', verticalAlign: 'middle', fontSize: 10.5,
            lineHeight: 11, fontFamily: FONT, fill: color || '#000'}};
    };
    return [
        circ(cr, {fill: '#fcc9d2'}),
        circ(cl, {fill: 'rgba(0,255,255,0.2)'}),
        circ(cr, {fill: 'none', stroke: '#777', lineWidth: 1}),
        circ(cl, {fill: 'none', stroke: '#777', lineWidth: 1}),
        t([-0.719, 1.075], vennSets[0] + '\n(' + vennTotals[0] + ')', '#2fdcdc'),
        t([1.497, 1.094], vennSets[1] + '\n(' + vennTotals[1] + ')', '#dc143c'),
        t([-0.509, 0], String(vennOnly[0])),
        t([0.454, -0.01], String(vennShared)),
        t([1.486, -0.01], String(vennOnly[1]))
    ];
}));

// ---- F ----
series.push({type: 'line', xAxisIndex: 13, yAxisIndex: 13, data: [[0, -3.885], [0, 72.89]], symbol: 'none', silent: true,
    clip: false, lineStyle: {color: '#000', width: 1.6, type: [6, 4]}});
series.push({type: 'custom', xAxisIndex: 13, yAxisIndex: 13, silent: true,
    data: genes.map((g, i) => [i, Math.log2(hrLow[i]), Math.log2(hrHigh[i]), Math.log2(hr[i]), hr[i] > 1 ? 1 : 0]),
    encode: {x: [1, 2, 3], y: 0},
    renderItem: (params, api) => {
        const i = api.value(0);
        const y = api.coord([0, i])[1];
        const xl = api.coord([api.value(1), i])[0], xh = api.coord([api.value(2), i])[0], xm = api.coord([api.value(3), i])[0];
        const nav = '#1b1b8e';
        return {type: 'group', children: [
            ln([xl, y], [xh, y], nav, 1.8), ln([xl, y - 4.3], [xl, y + 4.3], nav, 1.8), ln([xh, y - 4.3], [xh, y + 4.3], nav, 1.8),
            {type: 'rect', shape: {x: xm - 3.7, y: y - 3.4, width: 7.4, height: 6.8},
                style: {fill: api.value(4) > 0 ? '#f0359c' : '#1dbdf0'}}]};
    }});

// ---- G ----
series.push(once(14, -3.5, 13, api => {
    const ch = [], c = '#b4b4b4';
    cvLogLambda.forEach((x, i) => {
        const a = api.coord([x, cvUpper[i]]), b = api.coord([x, cvLower[i]]);
        ch.push(ln(a, b, c, 1), ln([a[0] - 4.3, a[1]], [a[0] + 4.3, a[1]], c, 1), ln([b[0] - 4.3, b[1]], [b[0] + 4.3, b[1]], c, 1));
    });
    return ch;
}));
series.push({type: 'scatter', xAxisIndex: 14, yAxisIndex: 14, symbolSize: 5.5, silent: true, z: 4,
    itemStyle: {color: '#ff0000'}, data: cvLogLambda.map((x, i) => [x, cvMean[i]]),
    markLine: {silent: true, symbol: 'none', label: {show: false}, lineStyle: {color: '#555', width: 1, type: [4, 3]},
        data: [{xAxis: lambdaMinLog}, {xAxis: lambda1seLog}]}});
coefPaths.forEach((path, k) => {
    const pts = path.slice();
    if (pts[pts.length - 1][0] < -1.70) pts.push([-1.70, 0]);
    series.push({type: 'line', xAxisIndex: 15, yAxisIndex: 15, data: pts, symbol: 'none', silent: true,
        lineStyle: {color: glmnetPalette[coefColorKey[k]], width: 1}});
});
series.push({type: 'scatter', xAxisIndex: 15, yAxisIndex: 15, symbolSize: 1, silent: true, itemStyle: {color: 'rgba(0,0,0,0)'},
    data: coefPaths.map((p, k) => [p[0][0], p[0][1], coefIds[k]]),
    label: {show: true, position: 'left', distance: 3, fontSize: 4.5, color: '#333', fontFamily: FONT, formatter: p => String(p.value[2])}});

// ---- H ----
series.push(once(16, 6, 0.5, api => [[highBand, highEnd, 0], [lowBand, lowEnd, 1]].map(([band, tEnd, k]) => ({
    type: 'polygon', shape: {points: stepBand(band, tEnd).map(p => api.coord(p))}, style: {fill: kmBandColors[k]}}))));
[[highT, highS, highCensor, 0], [lowT, lowS, lowCensor, 1]].forEach(([ts, ss, cens, k]) => {
    series.push({type: 'line', xAxisIndex: 16, yAxisIndex: 16, step: 'end', symbol: 'none', silent: true,
        data: ts.map((t, i) => [t, ss[i]]), lineStyle: {color: kmColors[k], width: 1.6}});
    series.push({type: 'scatter', xAxisIndex: 16, yAxisIndex: 16, silent: true, symbol: 'path://M5,0L5,10M0,5L10,5', symbolSize: 6,
        itemStyle: {color: 'none', borderColor: kmColors[k], borderWidth: 1},
        data: cens.map(t => [t, survAt(ts, ss, t)])});
});
[riskHigh, riskLow].forEach((counts, k) => {
    series.push({type: 'scatter', xAxisIndex: 17, yAxisIndex: 17, symbolSize: 1, silent: true, itemStyle: {color: 'rgba(0,0,0,0)'},
        data: years.map((y, i) => [y, k, counts[i]]),
        label: {show: true, position: 'inside', fontSize: 11.6, color: '#000', fontFamily: FONT, formatter: p => String(p.value[2])}});
});

// ---- I ----
series.push({type: 'line', xAxisIndex: 18, yAxisIndex: 18, data: [[-0.04, -0.04], [1.038, 1.038]], symbol: 'none', silent: true,
    lineStyle: {color: '#333', width: 1, type: [3, 3]}});
[roc1, roc3, roc5].forEach((pts, k) => {
    series.push({type: 'line', name: rocNames[k], xAxisIndex: 18, yAxisIndex: 18, data: pts, symbol: 'none', silent: true,
        lineStyle: {color: rocColors[k], width: 2}, itemStyle: {color: rocColors[k]}});
});

// ---- free text ----
const graphics = [];
[['A', 0, 2], ['B', 989, 2], ['C', 0, 465], ['D', 583, 468], ['E', 1156, 465], ['F', 0, 990], ['G', 613, 993], ['H', 1113, 993], ['I', 1113, 1412]]
    .forEach(l => graphics.push(txt(l[1], l[2], l[0], 25, {bold: true, align: 'left', va: 'top'})));
graphics.push(txt(297, 43, 'Scale independence', 17, {bold: true}));
graphics.push(txt(709, 43, 'Mean connectivity', 17, {bold: true}));
graphics.push(txt(1317, 36, 'Gene dendrogram and module colors', 14, {bold: true}));
graphics.push(txt(1037, 405, 'Dynamic Tree Cut', 10));
graphics.push(txt(322, 487, 'Clustering of module eigengenes', 15.5, {bold: true}));
graphics.push(txt(893, 495, 'Module\u2212trait relationships', 11.5, {bold: true}));
graphics.push(txt(144, 1041.7, 'pvalue', 11));
graphics.push(txt(287, 1043, 'Hazard ratio', 11, {align: 'right'}));
graphics.push(txt(1215, 1215.7, kmPvalue, 15.5, {align: 'left'}));
graphics.push(txt(1135, 1335, 'Risk', 13, {rot: Math.PI / 2}));
graphics.push(txt(1303, 1040, 'Risk', 9.5, {align: 'left'}));
[[1326, 1345.7], [1387, 1406.7]].forEach((p, k) => {
    graphics.push({type: 'rect', shape: {x: p[0], y: 1033, width: 14, height: 14}, style: {fill: kmBandColors[k]}, z: 100});
    graphics.push(Object.assign(ln([p[0], 1040], [p[0] + 14, 1040], kmColors[k], 1.5), {z: 101}));
    graphics.push(Object.assign(ln([p[0] + 7, 1037], [p[0] + 7, 1043], kmColors[k], 1), {z: 101}));
    graphics.push(txt(p[1], 1040, kmGroups[k], 9.5, {align: 'left'}));
});

const option = {
    animation: false,
    backgroundColor: '#fff',
    textStyle: {fontFamily: FONT},
    grid: grids,
    xAxis: xAxes,
    yAxis: yAxes,
    visualMap: [{type: 'continuous', show: false, min: -1, max: 1, dimension: 2, seriesIndex: heatIndex,
        inRange: {color: ['#0d66ff', '#ffffff', '#ff0d00']}}],
    legend: [{data: rocNames, orient: 'vertical', left: 1363, top: 1685, icon: 'rect', itemWidth: 25, itemHeight: 2.5, itemGap: 1.6,
        selectedMode: false, textStyle: {fontSize: 12.5, color: '#000', fontFamily: FONT, padding: [0, 0, 0, 7]}}],
    graphic: graphics,
    series: series
};

const chart = echarts.init(document.getElementById('fig'), null, {renderer: 'svg', width: 1556, height: 1828});
chart.setOption(option);
</script>
</body>
</html>
